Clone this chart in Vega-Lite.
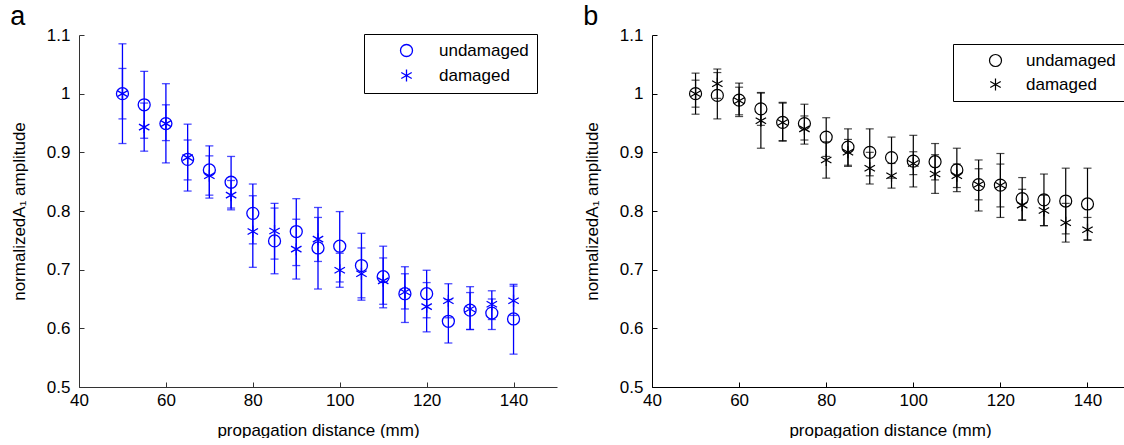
{
  "$schema": "https://vega.github.io/schema/vega-lite/v6.json",
  "padding": {"left": 10, "top": 3, "right": 0, "bottom": 0},
  "spacing": 26,
  "background": "#ffffff",
  "config": {
    "view": {"stroke": null},
    "font": "Liberation Sans",
    "axis": {
      "domainColor": "#000000",
      "tickColor": "#000000",
      "tickSize": -5,
      "grid": false,
      "labelFont": "Liberation Sans",
      "labelFontSize": 17,
      "labelColor": "#000000",
      "titleFont": "Liberation Sans",
      "titleFontSize": 17,
      "titleFontWeight": "normal",
      "titleColor": "#000000",
      "labelOverlap": false,
      "labelFlush": false,
      "domainWidth": 1,
      "tickWidth": 1
    },
    "axisX": {"labelPadding": 10, "titlePadding": 14, "format": "d"},
    "axisY": {"labelPadding": 14, "titlePadding": 18, "format": "~g"},
    "title": {"font": "Liberation Sans", "fontSize": 27, "fontWeight": "normal", "anchor": "start", "frame": "bounds", "color": "#000000", "offset": -5}
  },
  "datasets": {
    "a": [
      {"x": 50, "series": "undamaged", "v": 1.000, "lo": 0.915, "hi": 1.085},
      {"x": 50, "series": "damaged", "v": 1.000, "lo": 0.957, "hi": 1.043},
      {"x": 55, "series": "undamaged", "v": 0.981, "lo": 0.924, "hi": 1.038},
      {"x": 55, "series": "damaged", "v": 0.943, "lo": 0.902, "hi": 0.984},
      {"x": 60, "series": "undamaged", "v": 0.949, "lo": 0.882, "hi": 1.017},
      {"x": 60, "series": "damaged", "v": 0.949, "lo": 0.920, "hi": 0.981},
      {"x": 65, "series": "undamaged", "v": 0.888, "lo": 0.834, "hi": 0.948},
      {"x": 65, "series": "damaged", "v": 0.891, "lo": 0.853, "hi": 0.921},
      {"x": 70, "series": "undamaged", "v": 0.870, "lo": 0.827, "hi": 0.911},
      {"x": 70, "series": "damaged", "v": 0.860, "lo": 0.822, "hi": 0.894},
      {"x": 75, "series": "undamaged", "v": 0.849, "lo": 0.805, "hi": 0.893},
      {"x": 75, "series": "damaged", "v": 0.827, "lo": 0.802, "hi": 0.852},
      {"x": 80, "series": "undamaged", "v": 0.796, "lo": 0.744, "hi": 0.846},
      {"x": 80, "series": "damaged", "v": 0.765, "lo": 0.704, "hi": 0.826},
      {"x": 85, "series": "undamaged", "v": 0.749, "lo": 0.693, "hi": 0.805},
      {"x": 85, "series": "damaged", "v": 0.766, "lo": 0.718, "hi": 0.813},
      {"x": 90, "series": "undamaged", "v": 0.765, "lo": 0.707, "hi": 0.821},
      {"x": 90, "series": "damaged", "v": 0.735, "lo": 0.684, "hi": 0.786},
      {"x": 95, "series": "undamaged", "v": 0.737, "lo": 0.667, "hi": 0.806},
      {"x": 95, "series": "damaged", "v": 0.752, "lo": 0.714, "hi": 0.789},
      {"x": 100, "series": "undamaged", "v": 0.740, "lo": 0.679, "hi": 0.799},
      {"x": 100, "series": "damaged", "v": 0.699, "lo": 0.670, "hi": 0.728},
      {"x": 105, "series": "undamaged", "v": 0.707, "lo": 0.652, "hi": 0.762},
      {"x": 105, "series": "damaged", "v": 0.693, "lo": 0.648, "hi": 0.737},
      {"x": 110, "series": "undamaged", "v": 0.688, "lo": 0.635, "hi": 0.740},
      {"x": 110, "series": "damaged", "v": 0.681, "lo": 0.641, "hi": 0.720},
      {"x": 115, "series": "undamaged", "v": 0.659, "lo": 0.610, "hi": 0.705},
      {"x": 115, "series": "damaged", "v": 0.662, "lo": 0.633, "hi": 0.693},
      {"x": 120, "series": "undamaged", "v": 0.659, "lo": 0.618, "hi": 0.699},
      {"x": 120, "series": "damaged", "v": 0.637, "lo": 0.594, "hi": 0.678},
      {"x": 125, "series": "undamaged", "v": 0.612, "lo": 0.575, "hi": 0.649},
      {"x": 125, "series": "damaged", "v": 0.647, "lo": 0.618, "hi": 0.676},
      {"x": 130, "series": "undamaged", "v": 0.631, "lo": 0.598, "hi": 0.661},
      {"x": 130, "series": "damaged", "v": 0.633, "lo": 0.598, "hi": 0.671},
      {"x": 135, "series": "undamaged", "v": 0.626, "lo": 0.598, "hi": 0.650},
      {"x": 135, "series": "damaged", "v": 0.641, "lo": 0.615, "hi": 0.664},
      {"x": 140, "series": "undamaged", "v": 0.616, "lo": 0.556, "hi": 0.675},
      {"x": 140, "series": "damaged", "v": 0.647, "lo": 0.622, "hi": 0.672}
    ],
    "b": [
      {"x": 50, "series": "undamaged", "v": 1.000, "lo": 0.965, "hi": 1.035},
      {"x": 50, "series": "damaged", "v": 1.000, "lo": 0.977, "hi": 1.023},
      {"x": 55, "series": "undamaged", "v": 0.997, "lo": 0.957, "hi": 1.036},
      {"x": 55, "series": "damaged", "v": 1.017, "lo": 0.992, "hi": 1.042},
      {"x": 60, "series": "undamaged", "v": 0.989, "lo": 0.961, "hi": 1.018},
      {"x": 60, "series": "damaged", "v": 0.988, "lo": 0.964, "hi": 1.011},
      {"x": 65, "series": "undamaged", "v": 0.974, "lo": 0.946, "hi": 1.002},
      {"x": 65, "series": "damaged", "v": 0.954, "lo": 0.907, "hi": 1.001},
      {"x": 70, "series": "undamaged", "v": 0.951, "lo": 0.920, "hi": 0.985},
      {"x": 70, "series": "damaged", "v": 0.951, "lo": 0.919, "hi": 0.984},
      {"x": 75, "series": "undamaged", "v": 0.949, "lo": 0.914, "hi": 0.982},
      {"x": 75, "series": "damaged", "v": 0.940, "lo": 0.921, "hi": 0.962},
      {"x": 80, "series": "undamaged", "v": 0.926, "lo": 0.893, "hi": 0.959},
      {"x": 80, "series": "damaged", "v": 0.887, "lo": 0.856, "hi": 0.918},
      {"x": 85, "series": "undamaged", "v": 0.909, "lo": 0.876, "hi": 0.940},
      {"x": 85, "series": "damaged", "v": 0.900, "lo": 0.878, "hi": 0.922},
      {"x": 90, "series": "undamaged", "v": 0.900, "lo": 0.860, "hi": 0.940},
      {"x": 90, "series": "damaged", "v": 0.873, "lo": 0.846, "hi": 0.900},
      {"x": 95, "series": "undamaged", "v": 0.891, "lo": 0.856, "hi": 0.926},
      {"x": 95, "series": "damaged", "v": 0.860, "lo": 0.839, "hi": 0.881},
      {"x": 100, "series": "undamaged", "v": 0.885, "lo": 0.841, "hi": 0.929},
      {"x": 100, "series": "damaged", "v": 0.881, "lo": 0.862, "hi": 0.901},
      {"x": 105, "series": "undamaged", "v": 0.884, "lo": 0.853, "hi": 0.915},
      {"x": 105, "series": "damaged", "v": 0.863, "lo": 0.830, "hi": 0.896},
      {"x": 110, "series": "undamaged", "v": 0.870, "lo": 0.833, "hi": 0.907},
      {"x": 110, "series": "damaged", "v": 0.860, "lo": 0.840, "hi": 0.880},
      {"x": 115, "series": "undamaged", "v": 0.845, "lo": 0.800, "hi": 0.887},
      {"x": 115, "series": "damaged", "v": 0.845, "lo": 0.819, "hi": 0.872},
      {"x": 120, "series": "undamaged", "v": 0.844, "lo": 0.789, "hi": 0.898},
      {"x": 120, "series": "damaged", "v": 0.844, "lo": 0.807, "hi": 0.880},
      {"x": 125, "series": "undamaged", "v": 0.821, "lo": 0.785, "hi": 0.857},
      {"x": 125, "series": "damaged", "v": 0.810, "lo": 0.784, "hi": 0.837},
      {"x": 130, "series": "undamaged", "v": 0.819, "lo": 0.775, "hi": 0.863},
      {"x": 130, "series": "damaged", "v": 0.801, "lo": 0.775, "hi": 0.827},
      {"x": 135, "series": "undamaged", "v": 0.817, "lo": 0.761, "hi": 0.873},
      {"x": 135, "series": "damaged", "v": 0.780, "lo": 0.747, "hi": 0.813},
      {"x": 140, "series": "undamaged", "v": 0.812, "lo": 0.751, "hi": 0.873},
      {"x": 140, "series": "damaged", "v": 0.768, "lo": 0.750, "hi": 0.789}
    ]
  },
  "hconcat": [
    {
      "title": {"text": "a"},
      "width": 478,
      "height": 352,
      "data": {"name": "a"},
      "encoding": {
        "x": {"field": "x", "type": "quantitative", "title": "propagation distance (mm)",
              "scale": {"domain": [40, 150], "nice": false, "zero": false},
              "axis": {"values": [40, 60, 80, 100, 120, 140], "domainColor": "#333333", "tickColor": "#333333"}}
      },
      "layer": [
        {
          "mark": {"type": "rule", "color": "#0000ff", "strokeWidth": 1.3},
          "encoding": {
            "y": {"field": "lo", "type": "quantitative", "title": "normalizedA₁ amplitude",
                  "scale": {"domain": [0.5, 1.1], "nice": false, "zero": false},
                  "axis": {"values": [0.5, 0.6, 0.7, 0.8, 0.9, 1.0, 1.1], "domainColor": "#333333", "tickColor": "#333333"}},
            "y2": {"field": "hi"}
          }
        },
        {
          "mark": {"type": "tick", "orient": "horizontal", "color": "#0000ff", "size": 8, "thickness": 1.3},
          "encoding": {"y": {"field": "lo", "type": "quantitative", "title": "normalizedA₁ amplitude"}}
        },
        {
          "mark": {"type": "tick", "orient": "horizontal", "color": "#0000ff", "size": 8, "thickness": 1.3},
          "encoding": {"y": {"field": "hi", "type": "quantitative", "title": "normalizedA₁ amplitude"}}
        },
        {
          "mark": {"type": "point", "filled": false, "color": "#0000ff", "strokeWidth": 1.3, "size": 144, "opacity": 1},
          "encoding": {
            "y": {"field": "v", "type": "quantitative", "title": "normalizedA₁ amplitude"},
            "shape": {"field": "series", "type": "nominal",
                      "scale": {"domain": ["undamaged", "damaged"], "range": ["circle", "M0,-1L0,1M-0.87,-0.5L0.87,0.5M-0.87,0.5L0.87,-0.5"]},
                      "legend": {"orient": "none", "legendX": 285, "legendY": -1, "title": null,
                                 "strokeColor": "#000000", "fillColor": "#ffffff", "padding": 8,
                                 "symbolOffset": 26, "labelOffset": 24, "rowPadding": 6,
                                 "labelFontSize": 17, "labelFont": "Liberation Sans", "labelColor": "#000000",
                                 "symbolStrokeColor": "#0000ff", "symbolStrokeWidth": 1.3, "symbolSize": 144,
                                 "symbolFillColor": "transparent", "cornerRadius": 0}}
          }
        }
      ]
    },
    {
      "title": {"text": "b"},
      "width": 476,
      "height": 352,
      "data": {"name": "b"},
      "encoding": {
        "x": {"field": "x", "type": "quantitative", "title": "propagation distance (mm)",
              "scale": {"domain": [40, 149.3], "nice": false, "zero": false},
              "axis": {"values": [40, 60, 80, 100, 120, 140]}}
      },
      "layer": [
        {
          "mark": {"type": "rule", "color": "#000000", "strokeWidth": 1.2},
          "encoding": {
            "y": {"field": "lo", "type": "quantitative", "title": "normalizedA₁ amplitude",
                  "scale": {"domain": [0.5, 1.1], "nice": false, "zero": false},
                  "axis": {"values": [0.5, 0.6, 0.7, 0.8, 0.9, 1.0, 1.1]}},
            "y2": {"field": "hi"}
          }
        },
        {
          "mark": {"type": "tick", "orient": "horizontal", "color": "#000000", "size": 8, "thickness": 1.2},
          "encoding": {"y": {"field": "lo", "type": "quantitative", "title": "normalizedA₁ amplitude"}}
        },
        {
          "mark": {"type": "tick", "orient": "horizontal", "color": "#000000", "size": 8, "thickness": 1.2},
          "encoding": {"y": {"field": "hi", "type": "quantitative", "title": "normalizedA₁ amplitude"}}
        },
        {
          "mark": {"type": "point", "filled": false, "color": "#000000", "strokeWidth": 1.2, "size": 144, "opacity": 1},
          "encoding": {
            "y": {"field": "v", "type": "quantitative", "title": "normalizedA₁ amplitude"},
            "shape": {"field": "series", "type": "nominal",
                      "scale": {"domain": ["undamaged", "damaged"], "range": ["circle", "M0,-1L0,1M-0.87,-0.5L0.87,0.5M-0.87,0.5L0.87,-0.5"]},
                      "legend": {"orient": "none", "legendX": 301, "legendY": 9, "title": null,
                                 "strokeColor": "#000000", "fillColor": "#ffffff", "padding": 8,
                                 "symbolOffset": 26, "labelOffset": 22, "rowPadding": 6,
                                 "labelFontSize": 17, "labelFont": "Liberation Sans", "labelColor": "#000000",
                                 "symbolStrokeColor": "#000000", "symbolStrokeWidth": 1.2, "symbolSize": 144,
                                 "symbolFillColor": "transparent", "cornerRadius": 0}}
          }
        }
      ]
    }
  ],
  "resolve": {"scale": {"shape": "independent"}, "legend": {"shape": "independent"}}
}
